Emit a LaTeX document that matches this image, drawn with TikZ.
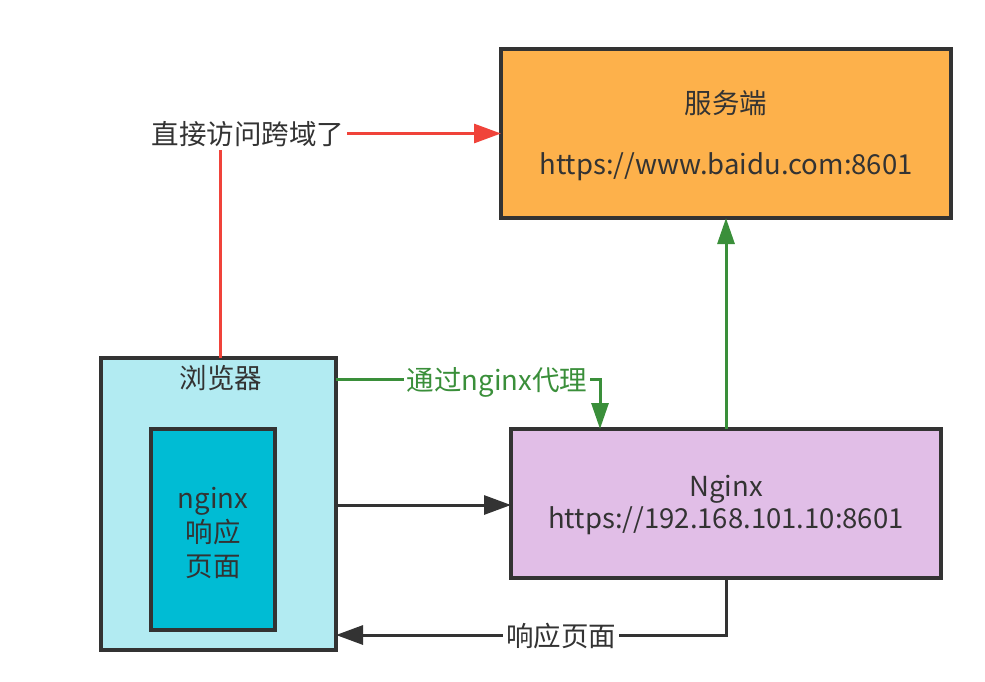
\documentclass[tikz,border=0pt]{standalone}
\usepackage{fontspec}
\setmainfont{Noto Sans CJK SC}
\usetikzlibrary{arrows.meta}
\definecolor{srvfill}{HTML}{FDB14B}
\definecolor{brfill}{HTML}{B2EBF2}
\definecolor{innerfill}{HTML}{00BCD4}
\definecolor{ngfill}{HTML}{E1BEE7}
\definecolor{edge}{HTML}{333333}
\definecolor{redline}{HTML}{F0433A}
\definecolor{greenline}{HTML}{3A8F3A}
\definecolor{txt}{HTML}{333333}
\tikzset{
  box/.style={draw=edge, line width=3.2pt, inner sep=0pt, outer sep=0pt, text=txt, font=\fontsize{27.5}{34}\selectfont},
  tx/.style={text=txt, inner sep=0pt, font=\fontsize{27.5}{34}\selectfont},
  lbl/.style={fill=white, inner sep=3pt, font=\fontsize{27.5}{34}\selectfont},
  tip/.style={-{Triangle[length=27pt,width=19pt]}},
  gtip/.style={-{Triangle[length=26pt,width=17pt]}},
  conn/.style={line width=3pt},
}
\begin{document}
\begin{tikzpicture}[x=1pt,y=-1pt]
\useasboundingbox (0,0) rectangle (985,681);
% boxes
\node[box, fill=srvfill, minimum width=450pt, minimum height=169pt] (srv) at (726,133.5) {};
\node[tx] (srvt1) at (726,103) {服务端};
\node[tx] (srvt2) at (726,167) {https://www.baidu.com:8601};

\node[box, fill=brfill, minimum width=235pt, minimum height=292pt] (br) at (218.5,504) {};
\node[tx] (brt) at (221,378) {浏览器};
\node[box, fill=innerfill, minimum width=124pt, minimum height=201pt] (inner) at (213,529.5) {};
\node[tx, align=center] (innert) at (213,533) {nginx\\响应\\页面};

\node[box, fill=ngfill, minimum width=430pt, minimum height=149pt] (ng) at (726,503.5) {};
\node[tx] (ngt1) at (726,489) {Nginx};
\node[tx] (ngt2) at (726,521) {https://192.168.101.10:8601};

% red direct access
\coordinate (rc) at (220,132);
\draw[redline, conn, tip] (br.north -| rc) |- (srv.west);
\node[lbl, text=txt] (rl) at (248,134) {直接访问跨域了};

% green via nginx
\coordinate (gs) at (336,379);
\coordinate (ge) at (600,428);
\draw[greenline, conn, gtip] (gs) -| (ng.north -| ge);
\node[lbl, text=greenline] (gl) at (497,382) {通过nginx代理};

% green up
\draw[greenline, conn, gtip] (ng.north) -- (srv.south);

% black request
\coordinate (bk) at (0,505);
\draw[edge, conn, tip] (br.east |- bk) -- (ng.west |- bk);

% black response
\coordinate (rr) at (0,635);
\draw[edge, conn, tip] (ng.south) |- (br.east |- rr);
\node[lbl, text=txt] (rpl) at (561,636) {响应页面};
\end{tikzpicture}
\end{document}
